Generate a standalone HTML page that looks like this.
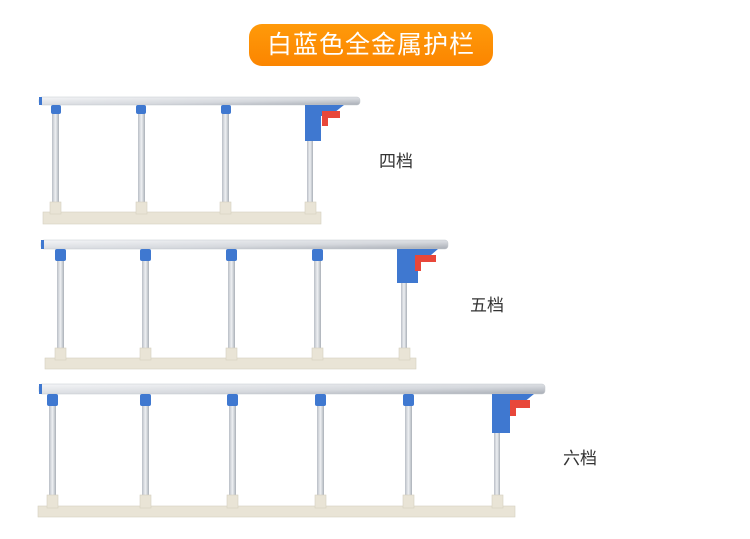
<!DOCTYPE html>
<html><head><meta charset="utf-8"><style>
body{margin:0;background:#fff;width:750px;height:539px;overflow:hidden;font-family:"Liberation Sans","Noto Sans CJK SC",sans-serif}
.t{position:absolute;left:249px;top:24px;width:244px;height:42px;border-radius:13px;background:linear-gradient(#ff9a0a,#fb8500);color:#fff;font-size:25px;line-height:42px;text-align:center;letter-spacing:1px}
.l{position:absolute;font-size:17px;color:#333}
svg{position:absolute;left:0;top:0}
</style></head><body>
<svg width="750" height="539">
<defs>
<linearGradient id="p" x1="0" x2="1"><stop offset="0" stop-color="#b9bec6"/><stop offset=".5" stop-color="#eef0f3"/><stop offset="1" stop-color="#aab0b8"/></linearGradient>
<linearGradient id="b" y1="0" y2="1"><stop offset="0" stop-color="#f4f5f7"/><stop offset=".6" stop-color="#d5d8dd"/><stop offset="1" stop-color="#a8adb5"/></linearGradient>
</defs>
<g fill="url(#p)">
<rect x="52" y="112" width="7" height="94"/><rect x="138" y="112" width="7" height="94"/><rect x="222" y="112" width="7" height="94"/><rect x="307" y="112" width="6" height="94"/>
<rect x="57" y="260" width="7" height="90"/><rect x="142" y="260" width="7" height="90"/><rect x="228" y="260" width="7" height="90"/><rect x="314" y="260" width="7" height="90"/><rect x="401" y="260" width="6" height="90"/>
<rect x="49" y="405" width="7" height="92"/><rect x="142" y="405" width="7" height="92"/><rect x="229" y="405" width="7" height="92"/><rect x="317" y="405" width="7" height="92"/><rect x="405" y="405" width="7" height="92"/><rect x="494" y="405" width="6" height="92"/>
</g>
<g fill="#e9e4d6" stroke="#d6d0bf" stroke-width=".6">
<rect x="43" y="212" width="278" height="12"/>
<rect x="50" y="202" width="11" height="12"/><rect x="136" y="202" width="11" height="12"/><rect x="220" y="202" width="11" height="12"/><rect x="305" y="202" width="11" height="12"/>
<rect x="45" y="358" width="371" height="11"/>
<rect x="55" y="348" width="11" height="12"/><rect x="140" y="348" width="11" height="12"/><rect x="226" y="348" width="11" height="12"/><rect x="312" y="348" width="11" height="12"/><rect x="399" y="348" width="11" height="12"/>
<rect x="38" y="506" width="477" height="11"/>
<rect x="47" y="495" width="11" height="13"/><rect x="140" y="495" width="11" height="13"/><rect x="227" y="495" width="11" height="13"/><rect x="315" y="495" width="11" height="13"/><rect x="403" y="495" width="11" height="13"/><rect x="492" y="495" width="11" height="13"/>
</g>
<g fill="url(#b)" stroke="#c5c9cf" stroke-width=".5">
<rect x="39" y="97" width="321" height="8" rx="3"/>
<rect x="41" y="240" width="407" height="9" rx="3"/>
<rect x="39" y="384" width="506" height="10" rx="3"/>
</g>
<g fill="#3f78d0">
<rect x="39" y="97" width="3" height="8"/><rect x="41" y="240" width="3" height="9"/><rect x="39" y="384" width="3" height="10"/>
<rect x="51" y="105" width="10" height="9" rx="2"/><rect x="136" y="105" width="10" height="9" rx="2"/><rect x="221" y="105" width="10" height="9" rx="2"/>
<rect x="55" y="249" width="11" height="12" rx="2"/><rect x="140" y="249" width="11" height="12" rx="2"/><rect x="226" y="249" width="11" height="12" rx="2"/><rect x="312" y="249" width="11" height="12" rx="2"/>
<rect x="47" y="394" width="11" height="12" rx="2"/><rect x="140" y="394" width="11" height="12" rx="2"/><rect x="227" y="394" width="11" height="12" rx="2"/><rect x="315" y="394" width="11" height="12" rx="2"/><rect x="403" y="394" width="11" height="12" rx="2"/>
<path d="M305 105H344L330 116H321V141H305Z"/>
<path d="M397 249H438L424 261H418V283H397Z"/>
<path d="M492 394H534L518 407H510V433H492Z"/>
</g>
<g fill="#e8473a">
<path d="M322 111H340V118H328V126H322Z"/>
<path d="M415 255H436V262H421V271H415Z"/>
<path d="M510 400H530V408H516V416H510Z"/>
</g>
</svg>
<div class="t">白蓝色全金属护栏</div>
<div class="l" style="left:379px;top:147px">四档</div>
<div class="l" style="left:470px;top:291px">五档</div>
<div class="l" style="left:563px;top:444px">六档</div>
</body></html>
